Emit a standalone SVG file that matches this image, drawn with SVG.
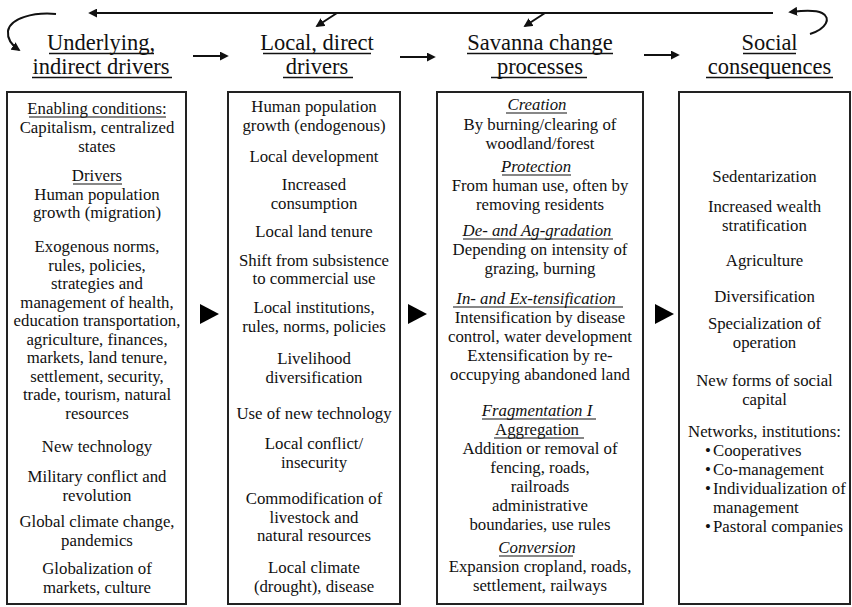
<svg xmlns="http://www.w3.org/2000/svg" width="852" height="607" viewBox="0 0 852 607">
  <style>
    text { font-family: 'Liberation Serif', 'Times New Roman', serif; }
    .t { font-size: 16.8px; fill: #111; text-anchor: middle; }
    .h { font-size: 22.5px; }
    .i { font-style: italic; }
    .l { text-anchor: start; }
    .u { stroke: #111; stroke-width: 1.1; }
    .hu { stroke: #111; stroke-width: 1.3; }
    .box { fill: #fff; stroke: #222; stroke-width: 2; }
    .tri { fill: #000; }
    .conn { stroke: #111; stroke-width: 2; fill: none; }
  </style>
  <defs>
    <marker id="ah" viewBox="0 0 10 10" refX="8" refY="5" markerWidth="4.5" markerHeight="4.5" orient="auto" markerUnits="strokeWidth">
      <path d="M0,0 L10,5 L0,10 z" fill="#111"/>
    </marker>
  </defs>

  <rect width="852" height="607" fill="#fff"/>

  <!-- Connectors: feedback loop across the top, header arrows, box-to-box triangles -->
  <g id="connectors">
    <line class="conn" x1="773" y1="13" x2="90" y2="13" marker-end="url(#ah)"/>
    <path class="conn" d="M56,14 C34,12 10,18 8,31 C7,40 13,46 19,50" marker-end="url(#ah)"/>
    <path class="conn" d="M810,34 C826,29 832,18 822,13 C814,9 800,11 790,12" marker-end="url(#ah)"/>
    <line class="conn" x1="337" y1="13" x2="317" y2="26" marker-end="url(#ah)"/>
    <line class="conn" x1="545" y1="13" x2="525" y2="26" marker-end="url(#ah)"/>
    <line class="conn" x1="193" y1="56" x2="227" y2="56" marker-end="url(#ah)"/>
    <line class="conn" x1="400" y1="57" x2="434" y2="57" marker-end="url(#ah)"/>
    <line class="conn" x1="644" y1="55" x2="678" y2="55" marker-end="url(#ah)"/>
    <polygon class="tri" points="200,304 219,314 200,324"/>
    <polygon class="tri" points="408,304 427,314 408,324"/>
    <polygon class="tri" points="655,304 674,314 655,324"/>
  </g>

  <!-- Column 1: underlying, indirect drivers -->
  <g id="underlying">
    <text class="t h" x="101" y="50">Underlying,</text>
    <line class="hu" x1="49" y1="53.5" x2="154" y2="53.5"/>
    <text class="t h" x="101" y="74">indirect drivers</text>
    <line class="hu" x1="32" y1="77.5" x2="172" y2="77.5"/>
    <rect class="box" x="7" y="92" width="179" height="512"/>
    <text class="t" x="97" y="114">Enabling conditions:</text>
    <line class="u" x1="29" y1="117" x2="166" y2="117"/>
    <text class="t" x="97" y="133">Capitalism, centralized</text>
    <text class="t" x="97" y="152">states</text>
    <text class="t" x="97" y="181">Drivers</text>
    <line class="u" x1="73" y1="184" x2="122" y2="184"/>
    <text class="t" x="97" y="199.5">Human population</text>
    <text class="t" x="97" y="218">growth (migration)</text>
    <text class="t" x="97" y="252">Exogenous norms,</text>
    <text class="t" x="97" y="270.5">rules, policies,</text>
    <text class="t" x="97" y="289">strategies and</text>
    <text class="t" x="97" y="307.5">management of health,</text>
    <text class="t" x="97" y="326">education transportation,</text>
    <text class="t" x="97" y="344.5">agriculture, finances,</text>
    <text class="t" x="97" y="363">markets, land tenure,</text>
    <text class="t" x="97" y="381.5">settlement, security,</text>
    <text class="t" x="97" y="400">trade, tourism, natural</text>
    <text class="t" x="97" y="418.5">resources</text>
    <text class="t" x="97" y="452">New technology</text>
    <text class="t" x="97" y="482">Military conflict and</text>
    <text class="t" x="97" y="500.5">revolution</text>
    <text class="t" x="97" y="527">Global climate change,</text>
    <text class="t" x="97" y="545.5">pandemics</text>
    <text class="t" x="97" y="574">Globalization of</text>
    <text class="t" x="97" y="592.5">markets, culture</text>
  </g>

  <!-- Column 2: local, direct drivers -->
  <g id="local">
    <text class="t h" x="317" y="50">Local, direct</text>
    <line class="hu" x1="263" y1="53.5" x2="371" y2="53.5"/>
    <text class="t h" x="317" y="74">drivers</text>
    <line class="hu" x1="283" y1="77.5" x2="353" y2="77.5"/>
    <rect class="box" x="228" y="92" width="172" height="512"/>
    <text class="t" x="314" y="112">Human population</text>
    <text class="t" x="314" y="130.5">growth (endogenous)</text>
    <text class="t" x="314" y="162">Local development</text>
    <text class="t" x="314" y="190">Increased</text>
    <text class="t" x="314" y="208.5">consumption</text>
    <text class="t" x="314" y="236.5">Local land tenure</text>
    <text class="t" x="314" y="265.5">Shift from subsistence</text>
    <text class="t" x="314" y="284">to commercial use</text>
    <text class="t" x="314" y="313">Local institutions,</text>
    <text class="t" x="314" y="331.5">rules, norms, policies</text>
    <text class="t" x="314" y="364">Livelihood</text>
    <text class="t" x="314" y="382.5">diversification</text>
    <text class="t" x="314" y="418.5">Use of new technology</text>
    <text class="t" x="314" y="449">Local conflict/</text>
    <text class="t" x="314" y="467.5">insecurity</text>
    <text class="t" x="314" y="504">Commodification of</text>
    <text class="t" x="314" y="522.5">livestock and</text>
    <text class="t" x="314" y="541">natural resources</text>
    <text class="t" x="314" y="573">Local climate</text>
    <text class="t" x="314" y="591.5">(drought), disease</text>
  </g>

  <!-- Column 3: savanna change processes -->
  <g id="savanna">
    <text class="t h" x="540" y="50">Savanna change</text>
    <line class="hu" x1="467" y1="53.5" x2="613" y2="53.5"/>
    <text class="t h" x="540" y="74">processes</text>
    <line class="hu" x1="491" y1="77.5" x2="587" y2="77.5"/>
    <rect class="box" x="437" y="92" width="206" height="512"/>
    <text class="t i" x="537" y="110">Creation</text>
    <line class="u" x1="506" y1="113" x2="567" y2="113"/>
    <text class="t" x="540" y="130">By burning/clearing of</text>
    <text class="t" x="540" y="149">woodland/forest</text>
    <text class="t i" x="536" y="172">Protection</text>
    <line class="u" x1="502" y1="175" x2="571" y2="175"/>
    <text class="t" x="540" y="191">From human use, often by</text>
    <text class="t" x="540" y="210">removing residents</text>
    <text class="t i" x="537" y="236">De- and Ag-gradation</text>
    <line class="u" x1="463" y1="239" x2="613" y2="239"/>
    <text class="t" x="540" y="255">Depending on intensity of</text>
    <text class="t" x="540" y="273.5">grazing, burning</text>
    <text class="t i" x="536" y="304">In- and Ex-tensification</text>
    <line class="u" x1="453" y1="307" x2="623" y2="307"/>
    <text class="t" x="540" y="323">Intensification by disease</text>
    <text class="t" x="540" y="341.5">control, water development</text>
    <text class="t" x="540" y="361">Extensification by re-</text>
    <text class="t" x="540" y="380">occupying abandoned land</text>
    <text class="t i" x="537" y="416">Fragmentation I</text>
    <line class="u" x1="482" y1="419" x2="596" y2="419"/>
    <text class="t" x="537" y="435">Aggregation</text>
    <line class="u" x1="494" y1="438" x2="584" y2="438"/>
    <text class="t" x="540" y="454">Addition or removal of</text>
    <text class="t" x="540" y="473">fencing, roads,</text>
    <text class="t" x="540" y="492">railroads</text>
    <text class="t" x="540" y="511">administrative</text>
    <text class="t" x="540" y="530">boundaries, use rules</text>
    <text class="t i" x="537" y="553">Conversion</text>
    <line class="u" x1="499" y1="556" x2="573" y2="556"/>
    <text class="t" x="540" y="572">Expansion cropland, roads,</text>
    <text class="t" x="540" y="591">settlement, railways</text>
  </g>

  <!-- Column 4: social consequences -->
  <g id="social">
    <text class="t h" x="769.5" y="50">Social</text>
    <line class="hu" x1="743" y1="53.5" x2="796" y2="53.5"/>
    <text class="t h" x="769.5" y="74">consequences</text>
    <line class="hu" x1="706" y1="77.5" x2="833" y2="77.5"/>
    <rect class="box" x="679" y="92" width="171" height="512"/>
    <text class="t" x="764.5" y="182">Sedentarization</text>
    <text class="t" x="764.5" y="212">Increased wealth</text>
    <text class="t" x="764.5" y="231">stratification</text>
    <text class="t" x="764.5" y="266">Agriculture</text>
    <text class="t" x="764.5" y="302">Diversification</text>
    <text class="t" x="764.5" y="329">Specialization of</text>
    <text class="t" x="764.5" y="348">operation</text>
    <text class="t" x="764.5" y="386">New forms of social</text>
    <text class="t" x="764.5" y="404.5">capital</text>
    <text class="t" x="764.5" y="437">Networks, institutions:</text>
    <text class="t l" x="705" y="456">•</text>
    <text class="t l" x="713" y="456">Cooperatives</text>
    <text class="t l" x="705" y="475">•</text>
    <text class="t l" x="713" y="475">Co-management</text>
    <text class="t l" x="705" y="494">•</text>
    <text class="t l" x="713" y="494">Individualization of</text>
    <text class="t l" x="713" y="513">management</text>
    <text class="t l" x="705" y="532">•</text>
    <text class="t l" x="713" y="532">Pastoral companies</text>
  </g>
</svg>
